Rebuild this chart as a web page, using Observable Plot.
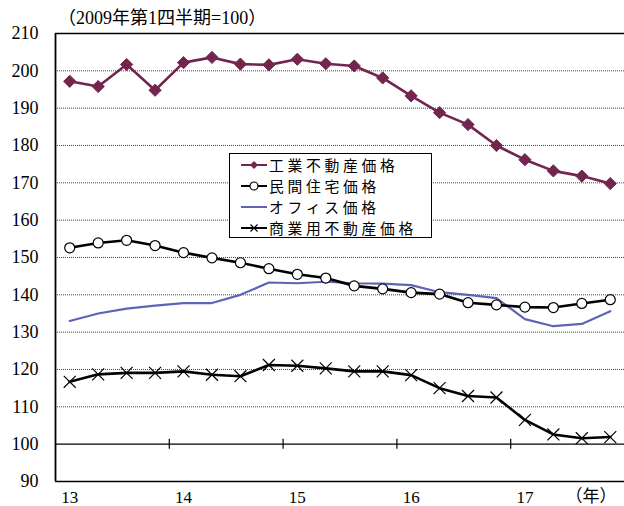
<!DOCTYPE html>
<html><head><meta charset="utf-8">
<script src="https://cdn.jsdelivr.net/npm/d3@7"></script>
<script src="https://cdn.jsdelivr.net/npm/@observablehq/plot@0.6"></script>
<style>
body{margin:0;background:#fff;}
#wrap{position:relative;width:624px;height:506px;overflow:hidden;}
#sub{position:absolute;left:58px;top:7px;font-size:18px;line-height:22px;font-family:"Liberation Serif","Noto Sans CJK JP",serif;white-space:nowrap;}
#chart{position:absolute;left:0;top:26px;}
#legend{position:absolute;left:229px;top:153px;width:201px;height:83px;border:1px solid #000;background:#fff;}
.row{position:absolute;left:11px;height:21px;line-height:21px;display:flex;align-items:center;font-size:14.8px;font-family:"Noto Sans CJK JP",sans-serif;letter-spacing:3.7px;white-space:nowrap;}
.row svg{margin-right:2px;flex:none;}
</style>
</head><body>
<div id="wrap">
  <div id="sub"></div>
  <div id="chart"></div>
  <div id="legend"></div>
</div>
<script>
const subtitle = "（2009年第1四半期=100）";
const yearLabels = ["13","14","15","16","17"];
const unitLabel = "（年）";
const quarters = ["13Q1","13Q2","13Q3","13Q4","14Q1","14Q2","14Q3","14Q4","15Q1","15Q2","15Q3","15Q4","16Q1","16Q2","16Q3","16Q4","17Q1","17Q2","17Q3","17Q4"];
const seriesNames = ["工業不動産価格","民間住宅価格","オフィス価格","商業用不動産価格"];
const industrial = [197.2,195.8,201.7,194.8,202.2,203.6,201.8,201.6,203.1,201.9,201.3,198.1,193.3,188.8,185.6,180.0,176.2,173.2,171.8,169.8];
const residential = [152.6,153.9,154.6,153.2,151.3,149.9,148.6,147.0,145.5,144.5,142.4,141.6,140.6,140.2,137.9,137.3,136.7,136.6,137.7,138.7];
const office = [133.0,135.0,136.3,137.1,137.8,137.8,140.0,143.3,143.1,143.5,143.1,143.0,142.6,140.7,140.0,139.1,133.5,131.6,132.2,135.6];
const commercial = [116.7,118.7,119.1,119.1,119.5,118.6,118.2,121.2,121.0,120.3,119.5,119.5,118.5,115.0,112.9,112.5,106.5,102.6,101.6,101.9];
const yTicks = [90,100,110,120,130,140,150,160,170,180,190,200,210];

const colors = {ind:"#72264f", off:"#5f63b8"};
const toRows = arr => arr.map((v,i)=>({i, q:quarters[i], v}));
const ind = toRows(industrial), res = toRows(residential), off = toRows(office), com = toRows(commercial);
const n = quarters.length;
const yearBreaks = yearLabels.slice(1).map((_,k)=>(k+1)*4-0.5);
const labelPos = yearLabels.map((_,k)=>k*4);

document.getElementById("sub").textContent = subtitle;

const chart = Plot.plot({
  width:624, height:480,
  marginTop:7, marginBottom:25, marginLeft:55, marginRight:0,
  style:{fontFamily:"Liberation Serif, serif", fontSize:"18px", color:"#000", background:"transparent", overflow:"visible"},
  x:{type:"linear", domain:[-0.5, n-0.5], label:null},
  y:{domain:[90,210], label:null},
  marks:[
    Plot.ruleY(yTicks.filter(v=>v!==90 && v!==100 && v!==210), {stroke:"#444", strokeWidth:1, strokeDasharray:"1,1"}),
    Plot.ruleY([100], {stroke:"#000", strokeWidth:1.2}),
    Plot.ruleX(yearBreaks, {x:d=>d, y1:100, y2:100, insetTop:-5, insetBottom:-5, stroke:"#000", strokeWidth:1.2}),
    Plot.ruleY([210], {stroke:"#000", strokeWidth:1.6}),
    Plot.ruleY([90], {stroke:"#000", strokeWidth:1.6}),
    Plot.ruleX([-0.5], {stroke:"#000", strokeWidth:1.8}),
    Plot.line(off, {x:"i", y:"v", stroke:colors.off, strokeWidth:2.2}),
    Plot.line(com, {x:"i", y:"v", stroke:"#000", strokeWidth:2.6}),
    Plot.dot(com, {x:"i", y:"v", symbol:"times", r:5.5, stroke:"#000", strokeWidth:1.2}),
    Plot.line(res, {x:"i", y:"v", stroke:"#000", strokeWidth:2.6}),
    Plot.dot(res, {x:"i", y:"v", symbol:"circle", r:5, fill:"#fff", stroke:"#000", strokeWidth:1.2}),
    Plot.line(ind, {x:"i", y:"v", stroke:colors.ind, strokeWidth:2.6}),
    Plot.dot(ind, {x:"i", y:"v", symbol:"diamond2", r:5.5, fill:colors.ind, stroke:colors.ind, strokeWidth:1}),
    Plot.axisY({ticks:yTicks, tickSize:0, tickPadding:17, label:null}),
    Plot.axisX({ticks:labelPos, tickFormat:d=>yearLabels[Math.round(d/4)], tickSize:0, tickPadding:9, fontSize:17, label:null}),
    Plot.text([unitLabel], {frameAnchor:"bottom-right", text:d=>d, textAnchor:"end", lineAnchor:"middle", dx:-8, dy:15, fontSize:17, fontFamily:"Liberation Serif, Noto Sans CJK JP"})
  ]
});
document.getElementById("chart").appendChild(chart);

// legend
const legendSpecs = [
  {line:colors.ind, sym:"diamond"},
  {line:"#000", sym:"circle"},
  {line:colors.off, sym:null},
  {line:"#000", sym:"times"}
];
const lg = document.getElementById("legend");
seriesNames.forEach((name,k)=>{
  const s = legendSpecs[k];
  const row = document.createElement("div");
  row.className = "row";
  row.style.top = (0 + k*21) + "px";
  let marker = "";
  if (s.sym==="diamond") marker = `<path d="M13,7 L17,11 L13,15 L9,11 Z" fill="${s.line}"/>`;
  if (s.sym==="circle") marker = `<circle cx="13" cy="11" r="4" fill="#fff" stroke="#000" stroke-width="1.2"/>`;
  if (s.sym==="times") marker = `<path d="M9.5,7.5 L16.5,14.5 M16.5,7.5 L9.5,14.5" stroke="#000" stroke-width="1.2"/>`;
  row.innerHTML = `<svg width="26" height="22"><line x1="0" x2="26" y1="11" y2="11" stroke="${s.line}" stroke-width="2"/>${marker}</svg><span>${name}</span>`;
  lg.appendChild(row);
});
</script>
</body></html>
